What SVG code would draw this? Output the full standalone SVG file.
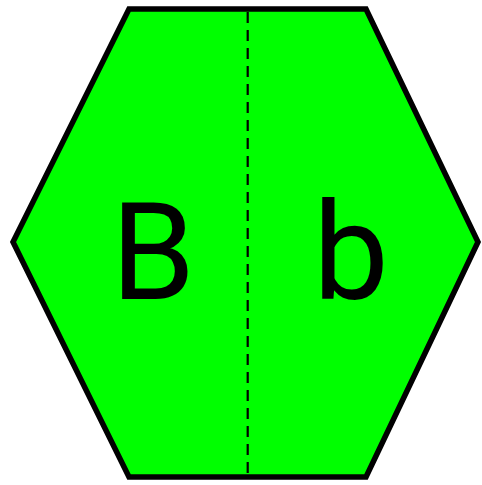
<svg xmlns="http://www.w3.org/2000/svg" width="482" height="485" viewBox="0 0 482 485">
<style>
.hex{fill:#00ff00;stroke:#000;stroke-width:5.5;stroke-linejoin:miter}
.div{stroke:#000;stroke-width:2.2;stroke-dasharray:11,7;fill:none}
.lbl{font-family:Roboto,"Open Sans",sans-serif;font-size:135px;fill:#000;text-anchor:middle}
</style>
<g id="hexagon">
<polygon class="hex" points="129,9 366,9 478,242 366,477 129,477 13,242"/>
</g>
<g id="connectors">
<line class="div" x1="247.7" y1="12" x2="247.7" y2="475"/>
</g>
<g id="node-B">
<text class="lbl" x="153" y="299">B</text>
</g>
<g id="node-b">
<text class="lbl" x="351" y="299">b</text>
</g>
</svg>
